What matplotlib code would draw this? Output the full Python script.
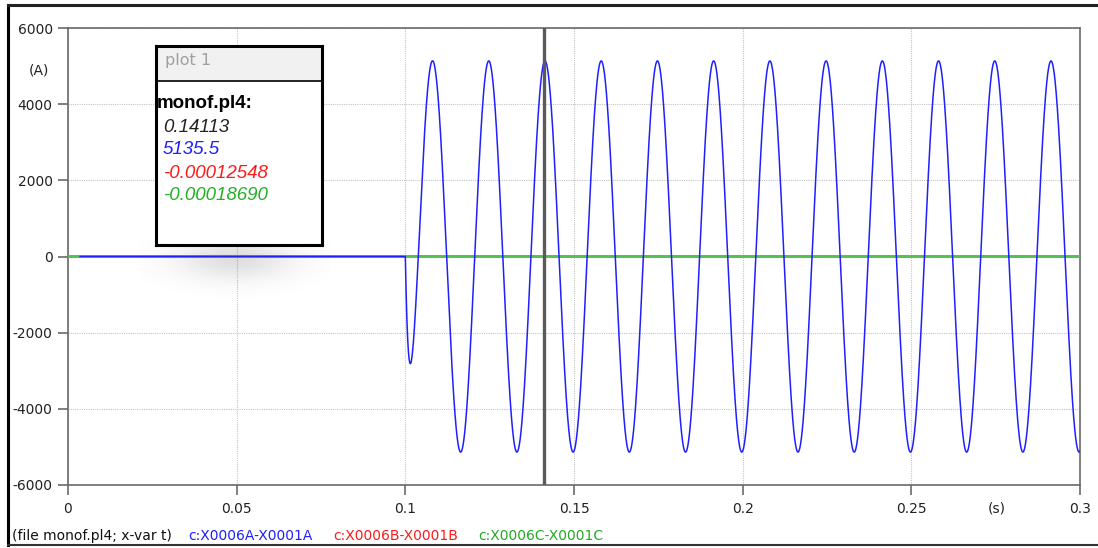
import numpy as np
import matplotlib
matplotlib.use("Agg")
import matplotlib.pyplot as plt
from matplotlib.patches import Rectangle
from matplotlib.lines import Line2D

# ---- data ----
X_TICKS = [0, 0.05, 0.1, 0.15, 0.2, 0.25, 0.3]
X_TICK_LABELS = ["0", "0.05", "0.1", "0.15", "0.2", "0.25", "0.3"]
Y_TICKS = [-6000, -4000, -2000, 0, 2000, 4000, 6000]
T_START_BLUE = 0.0036      # blue trace starts here
FAULT_TIME = 0.1           # current begins to flow
FREQ_HZ = 60.0
PEAK_A = 5135.5            # steady peak
TROUGH_TIME = 0.1164       # time of a steady-state trough
DC_TAU = 0.00105           # decay of offset (s)
CURSOR_T = 0.14113
CURSOR_VALUES = ["0.14113", "5135.5", "-0.00012548", "-0.00018690"]
SERIES_NAMES = ["c:X0006A-X0001A", "c:X0006B-X0001B", "c:X0006C-X0001C"]

BLUE = "#1f1fff"
RED = "#ff1a1a"
GREEN = "#55c255"

t = np.linspace(0, 0.3, 60001)
w = 2 * np.pi * FREQ_HZ
ss = -PEAK_A * np.cos(w * (t - TROUGH_TIME))
ss0 = -PEAK_A * np.cos(w * (FAULT_TIME - TROUGH_TIME))
ia = np.where(t >= FAULT_TIME, ss - ss0 * np.exp(-(t - FAULT_TIME) / DC_TAU), 0.0)
mask_a = t >= T_START_BLUE
ib = np.zeros_like(t)
ic = np.zeros_like(t)

W, H = 1098, 548
fig = plt.figure(figsize=(W / 100, H / 100), dpi=100)

def fx(px):
    return px / W

def fy(py):
    return 1 - py / H

ax = fig.add_axes([fx(68), fy(485), fx(1080) - fx(68), fy(28) - fy(485)])
ax.plot(t, ib, color=RED, lw=1.6, zorder=2)
ax.plot(t, ic, color=GREEN, lw=2.0, zorder=3)
ax.plot(t[mask_a], ia[mask_a], color=BLUE, lw=1.1, zorder=4)
ax.axvline(CURSOR_T, color="#5a5a5a", lw=2.4, zorder=5)

ax.set_xlim(0, 0.3)
ax.set_ylim(-6000, 6000)
ax.set_xticks(X_TICKS)
ax.set_xticklabels(X_TICK_LABELS)
ax.set_yticks(Y_TICKS)
ax.set_yticklabels([str(v) for v in Y_TICKS])
ax.grid(True, color="#c4c4c4", lw=0.8, ls=(0, (1, 1)))
ax.set_axisbelow(True)
for s in ax.spines.values():
    s.set_color("#6a6a6a")
    s.set_linewidth(1.2)
ax.tick_params(axis="both", direction="out", length=7, width=1.2, color="#6a6a6a",
               labelsize=10, labelcolor="#222222", pad=4)
ax.tick_params(axis="x", pad=5)

fig.text(fx(39), fy(71), "(A)", ha="center", va="center", fontsize=10, color="#222222")
fig.text(fx(997), fy(508), "(s)", ha="center", va="center", fontsize=10, color="#222222")

# bottom legend
fig.text(fx(12), fy(536), "(file monof.pl4; x-var t)", ha="left", va="center",
         fontsize=10, color="#111111")
for name, col, x0 in zip(SERIES_NAMES, [BLUE, RED, "#22aa22"], [188, 333, 478]):
    fig.text(fx(x0), fy(536), name, ha="left", va="center", fontsize=10, color=col)

# outer frame
fig.add_artist(Line2D([fx(8), fx(8)], [fy(5), fy(545)], color="black", lw=2.2))
fig.add_artist(Line2D([fx(8), 1.0], [fy(5), fy(5)], color="#222222", lw=2.2))
fig.add_artist(Line2D([fx(8), 1.0], [fy(545), fy(545)], color="#333333", lw=1.5))

# soft shadow below info box
sh = fig.add_axes([fx(140), fy(310), fx(330) - fx(140), fy(240) - fy(310)])
gx = np.linspace(-1, 1, 200)
gy = np.linspace(-1, 1, 100)
GX, GY = np.meshgrid(gx, gy)
alpha = np.exp(-(GX ** 2) / 0.35 - ((GY + 0.45) ** 2) / 0.35) * 0.18
img = np.zeros((100, 200, 4))
img[..., :3] = 0.3
img[..., 3] = alpha
sh.imshow(img, aspect="auto", interpolation="bilinear")
sh.axis("off")

# info box
bx = fig.add_axes([fx(156), fy(245), fx(322) - fx(156), fy(46) - fy(245)])
bx.set_xlim(0, 1)
bx.set_ylim(0, 1)
bx.set_xticks([])
bx.set_yticks([])
bx.set_facecolor("white")
for s in bx.spines.values():
    s.set_color("black")
    s.set_linewidth(2.2)
hdr = (245 - 81) / (245 - 46)
bx.add_patch(Rectangle((0, hdr), 1, 1 - hdr, facecolor="#f1f1f1", edgecolor="none"))
bx.axhline(hdr, color="black", lw=1.2)

fig.text(fx(165), fy(60), "plot 1", ha="left", va="center", fontsize=11.5, color="#a0a0a0")
fig.text(fx(157), fy(103), "monof.pl4:", ha="left", va="center", fontsize=13.5,
         fontweight="bold", family="Liberation Sans", color="black")
for i, (txt, col) in enumerate(zip(CURSOR_VALUES, ["#222222", BLUE, RED, "#22b022"])):
    fig.text(fx(163), fy(127 + 23 * i), txt, ha="left", va="center", fontsize=13.5,
             style="italic", family="Liberation Sans", color=col)

fig.savefig("out.png", dpi=100)
